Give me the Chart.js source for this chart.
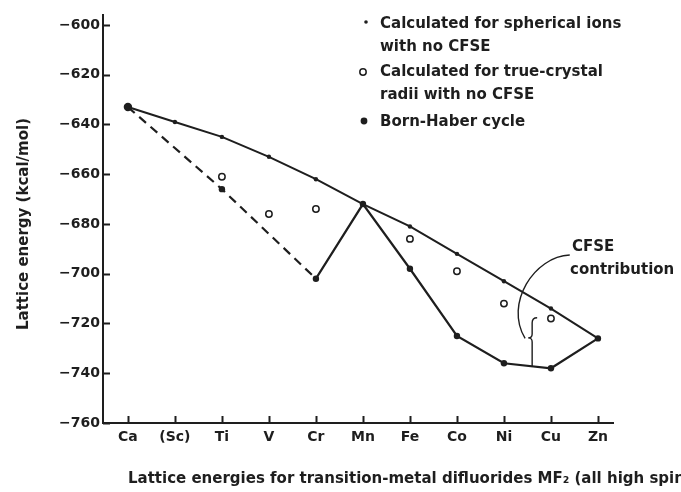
<!DOCTYPE html>
<html>
<head>
<meta charset="utf-8">
<script src="https://cdn.jsdelivr.net/npm/chart.js@4/dist/chart.umd.min.js"></script>
<style>
html,body{margin:0;padding:0;background:#fff;}
#wrap{width:681px;height:492px;}
</style>
</head>
<body>
<div id="wrap"><canvas id="c" width="681" height="492"></canvas></div>
<script>
// ---- data ----
const categories = ['Ca', '(Sc)', 'Ti', 'V', 'Cr', 'Mn', 'Fe', 'Co', 'Ni', 'Cu', 'Zn'];
const sphericalIons = [-633, -639, -645, -653, -662, -672, -681, -692, -703, -714, -726];
const trueCrystalRadii = [null, null, -661, -676, -674, null, -686, -699, -712, -718, null];
const bornHaber = [-633, null, -666, null, -702, -672, -698, -725, -736, -738, -726];
const yTicks = [-600, -620, -640, -660, -680, -700, -720, -740, -760];
const legendLines = [
  ['Calculated for spherical ions', 'with no CFSE'],
  ['Calculated for true-crystal', 'radii with no CFSE'],
  ['Born-Haber cycle']
];
const xTitle = 'Lattice energies for transition-metal difluorides MF\u2082 (all high spin)';
const yTitle = 'Lattice energy (kcal/mol)';
const cfseLabel = ['CFSE', 'contribution'];
// CFSE brace at Cu side (category index, energy values)
const braceX = 8.6;
const braceTop = -717.7, braceTip = -725.8, braceBottom = -737.5;

// ---- helpers ----
const INK = '#1e1e1e';
const FONT = 'DejaVu Sans';
const toPts = arr => arr.map((v, i) => v == null ? null : {x: i, y: v}).filter(p => p);
const bhPts = toPts(bornHaber);

const annot = {
  id: 'annot',
  afterDraw(chart) {
    const {ctx, chartArea: a, scales: {x, y}} = chart;
    ctx.save();
    ctx.strokeStyle = INK;
    ctx.fillStyle = INK;
    // inward ticks
    ctx.lineWidth = 2;
    ctx.beginPath();
    yTicks.forEach(v => {
      const py = Math.round(y.getPixelForValue(v)) + 0.5;
      ctx.moveTo(a.left, py); ctx.lineTo(a.left + 7, py);
    });
    categories.forEach((c, i) => {
      const px = Math.round(x.getPixelForValue(i)) + 0.5;
      ctx.moveTo(px, a.bottom); ctx.lineTo(px, a.bottom - 7);
    });
    ctx.stroke();

    // axis titles
    ctx.font = 'bold 15px "' + FONT + '"';
    ctx.textAlign = 'left';
    ctx.textBaseline = 'alphabetic';
    ctx.fillText(xTitle, 128, 483);
    ctx.save();
    ctx.translate(24, 224);
    ctx.rotate(-Math.PI / 2);
    ctx.font = 'bold 15px "' + FONT + '"';
    ctx.textAlign = 'center';
    ctx.textBaseline = 'middle';
    ctx.fillText(yTitle, 0, 0);
    ctx.restore();

    // legend
    ctx.font = 'bold 15px "' + FONT + '"';
    ctx.textAlign = 'left';
    ctx.textBaseline = 'alphabetic';
    const base = [[28, 51], [76, 99], [126]];
    const symY = [22, 72, 121];
    legendLines.forEach((lines, k) => {
      lines.forEach((t, j) => ctx.fillText(t, 380, base[k][j]));
    });
    ctx.beginPath(); ctx.arc(366, symY[0], 1.8, 0, Math.PI * 2); ctx.fill();
    ctx.lineWidth = 1.5;
    ctx.beginPath(); ctx.arc(363, symY[1], 3.2, 0, Math.PI * 2); ctx.stroke();
    ctx.beginPath(); ctx.arc(364, symY[2], 3.4, 0, Math.PI * 2); ctx.fill();

    // CFSE label
    ctx.fillText(cfseLabel[0], 572, 251);
    ctx.fillText(cfseLabel[1], 570, 274);

    // leader curve
    ctx.lineWidth = 1.4;
    ctx.beginPath();
    ctx.moveTo(x.getPixelForValue(9.4), y.getPixelForValue(-692.5));
    ctx.bezierCurveTo(
      x.getPixelForValue(8.65), y.getPixelForValue(-693),
      x.getPixelForValue(8.0), y.getPixelForValue(-712),
      x.getPixelForValue(8.45), y.getPixelForValue(-726));
    ctx.stroke();

    // brace
    const bx = x.getPixelForValue(braceX);
    const yt = y.getPixelForValue(braceTop);
    const ym = y.getPixelForValue(braceTip);
    const yb = y.getPixelForValue(braceBottom);
    ctx.beginPath();
    ctx.moveTo(bx + 5, yt);
    ctx.quadraticCurveTo(bx, yt, bx, yt + 5);
    ctx.lineTo(bx, ym - 4);
    ctx.quadraticCurveTo(bx, ym, bx - 4, ym);
    ctx.quadraticCurveTo(bx, ym, bx, ym + 4);
    ctx.lineTo(bx, yb);
    ctx.stroke();
    ctx.restore();
  }
};

new Chart(document.getElementById('c'), {
  type: 'line',
  data: {
    datasets: [
      {
        label: 'Calculated for spherical ions with no CFSE',
        data: toPts(sphericalIons),
        borderColor: INK, borderWidth: 2,
        pointRadius: 2.2, pointBackgroundColor: INK, pointBorderWidth: 0,
        tension: 0
      },
      {
        label: 'Calculated for true-crystal radii with no CFSE',
        data: toPts(trueCrystalRadii),
        showLine: false,
        pointRadius: 3.2, pointBorderWidth: 1.5,
        pointBorderColor: INK, pointBackgroundColor: '#fff'
      },
      {
        label: 'Born-Haber cycle',
        data: bhPts,
        borderColor: INK, borderWidth: 2.2,
        pointRadius: c => c.dataIndex === 0 ? 4.2 : 3.2,
        pointBackgroundColor: INK, pointBorderWidth: 0,
        tension: 0,
        segment: {
          borderDash: c => bhPts[c.p1DataIndex].x <= 4 ? [9, 6] : undefined
        }
      }
    ]
  },
  options: {
    responsive: false,
    animation: false,
    layout: {padding: {left: 0, right: 68, top: 15, bottom: 0}},
    plugins: {legend: {display: false}, tooltip: {enabled: false}},
    scales: {
      x: {
        type: 'linear',
        min: -0.53, max: 10.32,
        afterBuildTicks: s => { s.ticks = categories.map((c, i) => ({value: i})); },
        afterFit: s => { s.height = 69; },
        ticks: {
          callback: v => categories[Math.round(v)],
          autoSkip: false, maxRotation: 0, padding: 6,
          color: INK, font: {family: FONT, weight: 'bold', size: 14}
        },
        grid: {drawOnChartArea: false, drawTicks: false},
        border: {color: INK, width: 2}
      },
      y: {
        type: 'linear',
        min: -760, max: -596,
        afterBuildTicks: s => { s.ticks = yTicks.map(v => ({value: v})); },
        afterFit: s => { s.width = 103; },
        ticks: {
          callback: v => '\u2212' + Math.abs(v),
          padding: 3,
          color: INK, font: {family: FONT, weight: 'bold', size: 14}
        },
        grid: {drawOnChartArea: false, drawTicks: false},
        border: {color: INK, width: 2}
      }
    }
  },
  plugins: [annot]
});
</script>
</body>
</html>
